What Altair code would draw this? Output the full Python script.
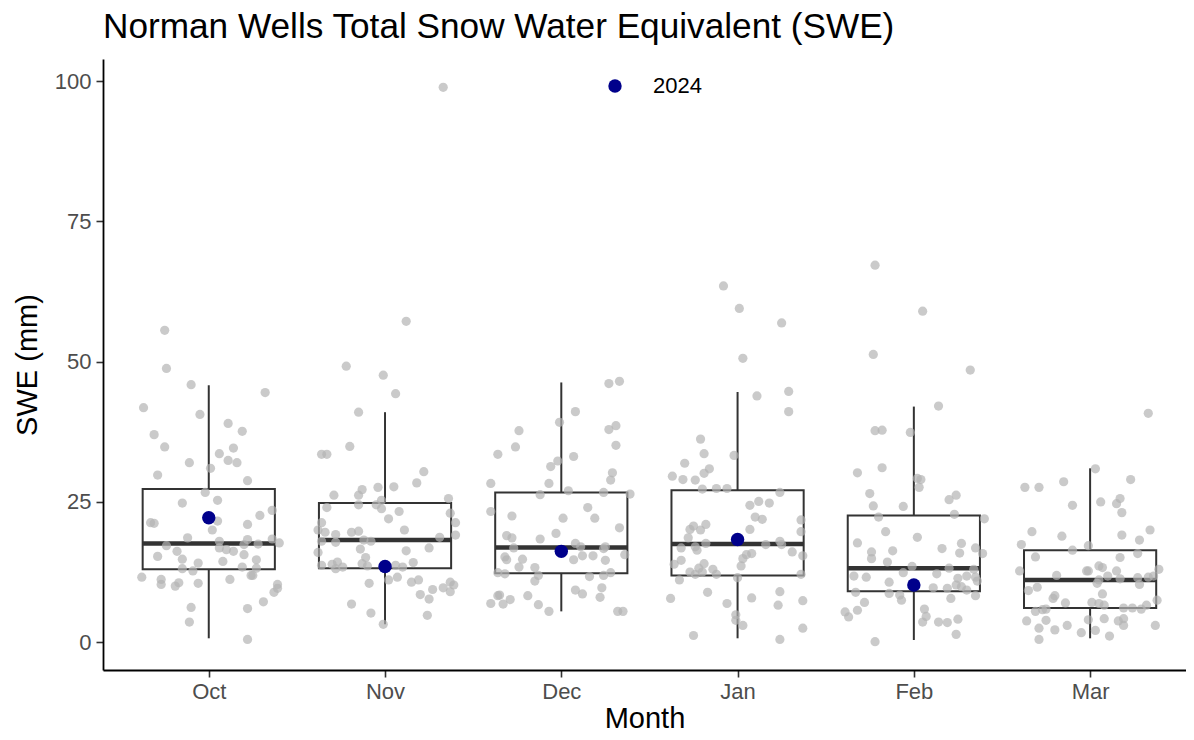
import altair as alt
import pandas as pd

months = ["Oct", "Nov", "Dec", "Jan", "Feb", "Mar"]

# Box statistics
whisker_low = [0.7, 3.2, 5.5, 0.7, 0.4, 0.7]
q1 = [13.0, 13.2, 12.3, 11.9, 9.1, 6.1]
median = [17.6, 18.2, 16.9, 17.5, 13.2, 11.1]
q3 = [27.3, 24.8, 26.7, 27.1, 22.6, 16.4]
whisker_high = [45.8, 41.0, 46.3, 44.6, 42.0, 31.0]

# 2024 values
months_2024 = ["Oct", "Nov", "Dec", "Jan", "Feb"]
swe_2024 = [22.2, 13.5, 16.2, 18.3, 10.2]

# Historical observations (value, jitter in category units)
oct_vals = [55.6, 48.8, 45.9, 44.5, 41.8, 40.6, 39.0, 37.6, 37.0, 34.8, 34.6, 33.6, 32.4, 32.0, 32.0, 31.0, 29.8, 28.8, 26.7, 24.8, 25.3, 22.6, 23.5, 21.3, 21.2, 21.6, 21.0, 20.0, 18.6, 18.0, 18.3, 17.4, 17.5, 18.4, 17.7, 17.2, 16.8, 16.5, 16.2, 16.2, 15.3, 14.8, 15.6, 14.7, 14.4, 14.1, 13.1, 12.7, 13.4, 13.2, 11.9, 11.9, 11.6, 11.2, 10.3, 10.0, 10.6, 10.5, 11.2, 10.3, 9.6, 8.9, 7.2, 6.0, 6.2, 3.6, 0.5]
oct_jit = [-0.25, -0.24, -0.10, 0.32, -0.37, -0.05, 0.11, 0.19, -0.31, -0.25, 0.14, 0.06, 0.11, 0.16, -0.11, 0.01, -0.29, 0.22, -0.02, -0.15, 0.05, 0.29, 0.36, -0.33, -0.31, 0.05, 0.22, 0.02, -0.12, 0.06, 0.22, 0.20, 0.28, 0.36, 0.40, -0.24, 0.06, 0.10, 0.14, -0.18, -0.29, -0.15, 0.20, 0.27, 0.08, -0.06, -0.15, -0.09, 0.19, 0.27, 0.24, 0.25, -0.38, -0.27, -0.27, -0.19, -0.17, -0.06, 0.12, 0.39, 0.39, 0.37, 0.31, 0.22, -0.10, -0.11, 0.22]

nov_vals = [98.9, 57.2, 49.2, 47.6, 44.3, 41.0, 34.9, 33.5, 33.5, 30.4, 28.4, 26.2, 27.2, 26.2, 27.6, 27.7, 25.6, 24.0, 24.5, 24.5, 25.3, 23.8, 23.3, 22.0, 23.0, 21.3, 21.3, 20.0, 20.0, 19.6, 19.2, 19.6, 19.8, 19.1, 18.7, 18.0, 17.8, 18.2, 18.0, 16.6, 16.3, 16.8, 16.0, 15.1, 14.3, 13.9, 13.1, 13.4, 14.0, 13.6, 14.2, 13.7, 13.4, 13.7, 11.6, 11.1, 10.5, 10.7, 11.1, 9.4, 9.7, 10.7, 10.2, 9.0, 8.5, 7.7, 6.8, 5.2, 4.8, 3.2]
nov_jit = [0.33, 0.12, -0.22, -0.01, 0.06, -0.15, -0.20, -0.36, -0.33, 0.22, 0.18, -0.29, -0.13, -0.15, -0.04, 0.05, 0.36, -0.33, -0.15, -0.05, -0.02, -0.02, 0.08, 0.02, 0.37, -0.36, 0.40, 0.11, -0.38, -0.34, -0.28, -0.19, -0.15, 0.40, 0.31, -0.36, -0.28, -0.12, -0.08, -0.14, 0.12, 0.25, -0.38, -0.11, -0.27, -0.30, -0.28, -0.24, -0.13, -0.10, 0.16, 0.06, 0.10, -0.36, 0.07, 0.02, -0.09, 0.15, 0.19, 0.27, 0.33, 0.37, 0.39, 0.37, 0.20, 0.25, -0.19, -0.08, 0.24, -0.01]

dec_vals = [46.1, 46.5, 41.1, 39.2, 37.7, 37.9, 38.6, 34.8, 33.5, 35.1, 33.1, 32.3, 31.3, 30.2, 28.9, 28.3, 28.3, 26.3, 27.0, 26.7, 26.4, 24.0, 23.3, 22.5, 22.1, 22.1, 20.4, 19.4, 19.0, 18.6, 18.4, 17.6, 17.0, 16.7, 17.0, 16.8, 15.6, 15.2, 14.7, 14.8, 14.7, 15.4, 15.4, 14.6, 13.4, 13.3, 12.4, 12.2, 11.9, 10.9, 11.7, 11.9, 12.4, 9.7, 9.3, 8.6, 8.0, 8.3, 8.4, 7.6, 6.9, 6.8, 8.3, 6.7, 5.5, 5.5, 5.5]
dec_jit = [0.27, 0.33, 0.08, -0.01, -0.24, 0.27, 0.31, -0.26, -0.36, 0.31, 0.07, -0.02, -0.06, 0.29, 0.28, -0.40, -0.07, -0.12, 0.04, 0.24, 0.39, 0.15, -0.40, -0.28, 0.01, 0.19, 0.33, -0.03, -0.31, -0.28, -0.12, 0.08, 0.11, 0.24, 0.25, -0.27, 0.36, -0.32, -0.31, -0.22, 0.07, 0.12, 0.18, 0.25, -0.24, -0.15, -0.36, -0.32, -0.13, -0.15, 0.16, 0.24, 0.28, 0.23, 0.08, 0.12, 0.22, -0.36, -0.35, -0.29, -0.40, -0.33, -0.19, -0.13, -0.07, 0.32, 0.35]

jan_vals = [63.5, 59.5, 56.9, 50.6, 44.7, 43.9, 41.1, 36.2, 33.6, 33.3, 31.9, 30.9, 30.1, 29.6, 29.0, 28.9, 27.3, 27.4, 27.4, 26.7, 24.4, 25.1, 24.8, 22.3, 21.9, 21.8, 20.7, 20.1, 20.0, 21.0, 19.7, 20.1, 18.6, 16.8, 17.0, 16.4, 17.6, 17.4, 18.0, 17.4, 16.1, 15.4, 15.8, 15.6, 14.9, 13.6, 14.6, 13.9, 14.0, 13.2, 12.5, 12.1, 13.0, 12.1, 12.5, 11.1, 11.5, 12.1, 7.8, 8.9, 6.9, 7.9, 9.0, 6.6, 7.4, 4.9, 3.9, 3.0, 1.2, 0.5, 2.5]
jan_jit = [-0.08, 0.01, 0.25, 0.03, 0.29, 0.11, 0.29, -0.21, -0.19, -0.02, -0.30, -0.16, -0.19, -0.37, -0.31, -0.24, -0.20, -0.12, -0.06, 0.24, 0.07, 0.12, 0.18, 0.10, 0.14, 0.36, -0.25, -0.27, -0.21, -0.18, 0.36, 0.07, -0.28, -0.32, -0.24, -0.23, -0.18, 0.16, 0.24, 0.25, 0.31, 0.37, 0.08, 0.05, 0.03, 0.02, -0.32, -0.36, -0.19, -0.22, -0.27, -0.24, -0.14, -0.12, -0.20, -0.33, 0.00, 0.36, -0.38, -0.17, -0.06, 0.08, 0.24, 0.23, 0.37, -0.01, -0.01, 0.03, -0.25, 0.24, 0.37]

feb_vals = [67.2, 59.0, 51.3, 48.5, 42.1, 37.7, 37.8, 37.4, 31.1, 30.2, 29.2, 29.0, 27.6, 26.5, 26.2, 25.4, 24.3, 24.2, 22.8, 22.3, 22.0, 19.7, 18.7, 17.7, 17.6, 16.1, 14.9, 16.3, 16.7, 15.9, 16.8, 15.8, 14.3, 13.5, 13.2, 13.0, 11.8, 11.6, 12.4, 12.2, 11.4, 11.8, 11.6, 10.9, 10.7, 9.7, 9.6, 10.2, 8.9, 8.7, 8.4, 7.5, 7.8, 9.9, 9.3, 8.3, 7.1, 5.7, 5.4, 4.5, 5.9, 4.6, 3.6, 3.6, 3.5, 4.1, 1.4, 0.1]
feb_jit = [-0.22, 0.05, -0.23, 0.32, 0.14, -0.22, -0.18, -0.02, -0.18, -0.32, 0.02, 0.04, 0.03, -0.25, 0.24, 0.20, -0.23, -0.06, 0.23, -0.20, 0.40, -0.16, 0.02, -0.32, 0.27, -0.24, -0.24, -0.12, 0.16, 0.26, 0.35, 0.39, -0.15, -0.01, 0.20, 0.34, -0.34, -0.27, -0.06, 0.13, 0.25, 0.30, 0.35, 0.36, -0.14, 0.11, 0.19, 0.24, -0.33, -0.14, -0.08, -0.07, 0.21, 0.27, 0.30, 0.35, -0.28, -0.32, -0.39, -0.37, 0.06, 0.07, 0.05, 0.14, 0.19, 0.25, 0.24, -0.22]

mar_vals = [40.8, 30.9, 27.6, 27.6, 28.6, 29.0, 24.4, 25.0, 25.6, 24.7, 23.1, 19.7, 18.9, 19.1, 20.0, 18.2, 17.4, 17.2, 16.4, 15.8, 15.2, 15.1, 12.7, 12.7, 12.7, 13.6, 13.3, 12.7, 11.9, 11.8, 11.3, 11.1, 10.5, 11.5, 10.3, 11.6, 11.8, 13.0, 9.2, 9.8, 7.8, 8.3, 7.0, 8.6, 7.1, 6.9, 6.6, 5.5, 5.8, 5.9, 6.1, 6.1, 5.9, 6.6, 7.5, 3.8, 3.9, 2.5, 2.2, 3.0, 4.0, 4.2, 3.8, 4.2, 3.0, 1.7, 2.1, 1.1, 3.0, 0.5]
mar_jit = [0.33, 0.03, -0.37, -0.29, -0.15, 0.23, -0.10, 0.06, 0.17, 0.15, 0.18, -0.33, -0.16, 0.18, 0.34, 0.28, -0.39, -0.01, -0.10, 0.27, -0.31, 0.17, -0.40, -0.02, -0.01, 0.05, 0.07, 0.15, -0.19, 0.10, 0.17, 0.05, 0.04, 0.27, 0.28, 0.33, 0.36, 0.39, -0.35, -0.30, -0.21, -0.20, -0.14, 0.07, 0.01, 0.05, 0.08, -0.31, -0.27, -0.25, 0.19, 0.24, 0.29, 0.32, 0.38, -0.36, -0.25, -0.29, -0.20, -0.13, -0.01, 0.08, 0.16, 0.19, 0.19, -0.05, 0.03, 0.11, 0.37, -0.29]

# ---- build tables ----
all_vals = [oct_vals, nov_vals, dec_vals, jan_vals, feb_vals, mar_vals]
all_jit = [oct_jit, nov_jit, dec_jit, jan_jit, feb_jit, mar_jit]
rows = []
for i, (vals, jits) in enumerate(zip(all_vals, all_jit)):
    for v, j in zip(vals, jits):
        rows.append({"month": months[i], "idx": i + 1, "jitter": j, "swe": v})
pts = pd.DataFrame(rows)

box = pd.DataFrame({
    "month": months, "idx": list(range(1, 7)),
    "lo": whisker_low, "q1": q1, "med": median, "q3": q3, "hi": whisker_high,
})
cur = pd.DataFrame({
    "month": months_2024,
    "idx": [months.index(m) + 1 for m in months_2024],
    "swe": swe_2024,
    "year": ["2024"] * len(months_2024),
})

FONT = "Liberation Sans"
HALF = 0.375
xscale = alt.Scale(domain=[0.4, 6.544], nice=False, zero=False)
yscale = alt.Scale(domain=[-4.95, 103.95], nice=False, zero=False)

xaxis = alt.Axis(values=[1, 2, 3, 4, 5, 6],
                 labelExpr="['', 'Oct', 'Nov', 'Dec', 'Jan', 'Feb', 'Mar'][datum.value]",
                 title="Month", grid=False, labelPadding=4, titlePadding=2)
yaxis = alt.Axis(values=[0, 25, 50, 75, 100], title="SWE (mm)", grid=False,
                 labelPadding=5, titlePadding=12)

base_box = alt.Chart(box).transform_calculate(
    x0=f"datum.idx - {HALF}", x1=f"datum.idx + {HALF}"
)

whisk_lo = base_box.mark_rule(color="#333333", strokeWidth=2).encode(
    x=alt.X("idx:Q", scale=xscale, axis=xaxis),
    y=alt.Y("lo:Q", scale=yscale, axis=yaxis),
    y2="q1:Q",
)
whisk_hi = base_box.mark_rule(color="#333333", strokeWidth=2).encode(
    x=alt.X("idx:Q", scale=xscale),
    y=alt.Y("q3:Q", scale=yscale),
    y2="hi:Q",
)
rects = base_box.mark_rect(fill="white", fillOpacity=0, stroke="#333333", strokeWidth=2).encode(
    x=alt.X("x0:Q", scale=xscale),
    x2="x1:Q",
    y=alt.Y("q1:Q", scale=yscale),
    y2="q3:Q",
)
med = base_box.mark_rule(color="#333333", strokeWidth=4.5).encode(
    x=alt.X("x0:Q", scale=xscale),
    x2="x1:Q",
    y=alt.Y("med:Q", scale=yscale),
)

points = alt.Chart(pts).transform_calculate(
    xj="datum.idx + datum.jitter"
).mark_circle(color="#b3b3b3", opacity=0.7, size=85).encode(
    x=alt.X("xj:Q", scale=xscale),
    y=alt.Y("swe:Q", scale=yscale),
)

pts24 = alt.Chart(cur).mark_circle(opacity=1, size=180).encode(
    x=alt.X("idx:Q", scale=xscale),
    y=alt.Y("swe:Q", scale=yscale),
    color=alt.Color("year:N", scale=alt.Scale(domain=["2024"], range=["#00008B"]),
                    legend=alt.Legend(title=None, orient="none", legendX=501, legendY=16,
                                      symbolType="circle", symbolSize=180, symbolOpacity=1,
                                      labelFontSize=22, labelFont=FONT, labelColor="#000000",
                                      labelOffset=27, padding=0)),
)

chart = alt.layer(whisk_lo, whisk_hi, rects, med, points, pts24).properties(
    width=1083, height=611,
    padding={"left": 95, "top": 51, "right": 0, "bottom": 62},
    autosize=alt.AutoSizeParams(type="none"),
    title=alt.TitleParams("Norman Wells Total Snow Water Equivalent (SWE)", anchor="start",
                          font=FONT, fontSize=35.2, fontWeight="normal", color="#000000",
                          offset=14, frame="group"),
).configure_view(stroke="transparent").configure_axis(
    domainColor="#000000", domainWidth=1.8, tickColor="#333333", tickWidth=1.6, tickSize=7,
    labelFont=FONT, labelFontSize=22, labelColor="#4D4D4D",
    titleFont=FONT, titleFontSize=29, titleColor="#000000", titleFontWeight="normal",
)

chart.save("out.html", embed_options={"renderer": "svg", "actions": False})
